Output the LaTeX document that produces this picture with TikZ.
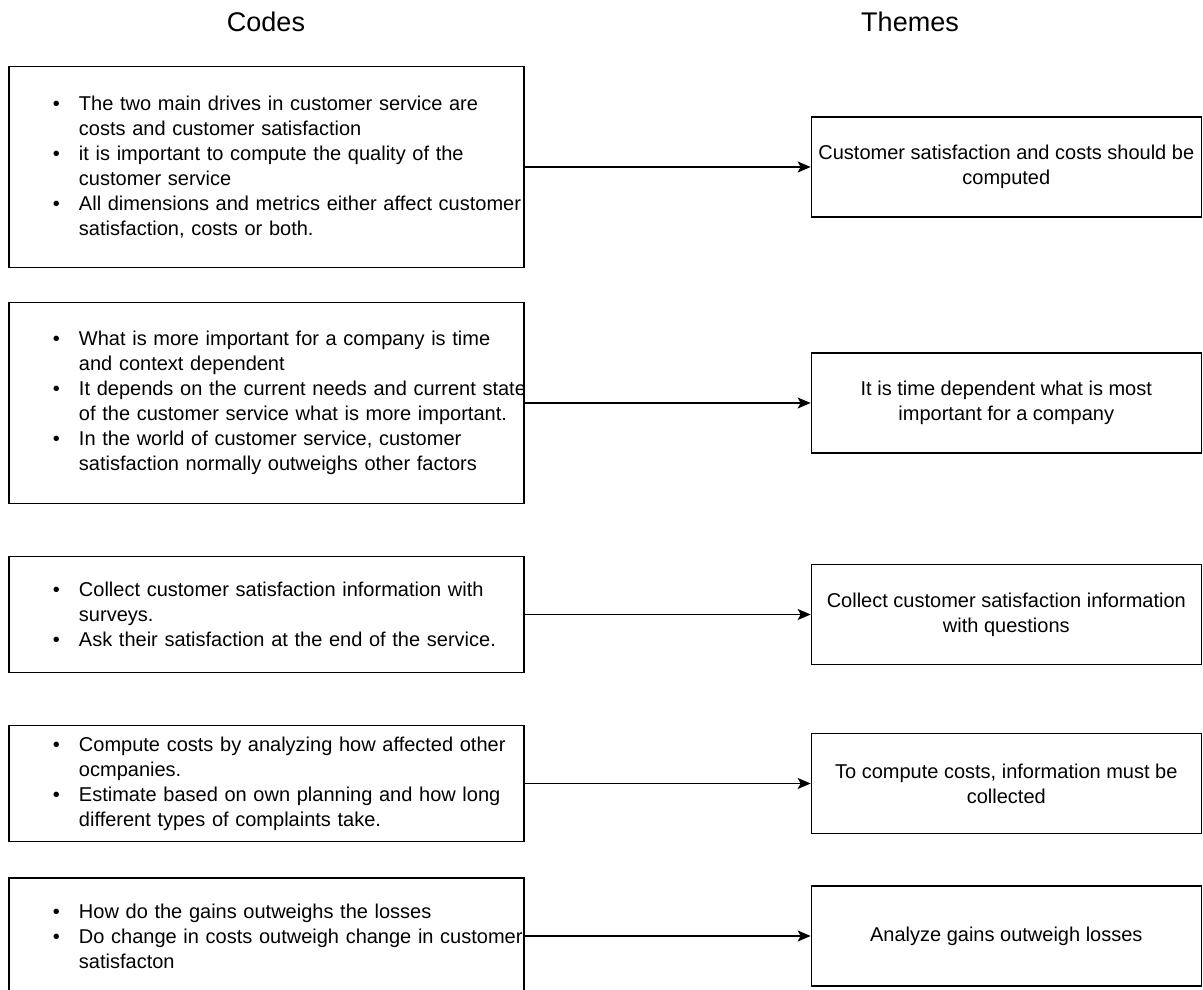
\documentclass[tikz,border=0pt]{standalone}
\usepackage{fontspec}
\setmainfont{Liberation Sans}
\usepackage{tikz}
\usetikzlibrary{positioning, arrows.meta}

\newcommand{\codeitem}[1]{\mbox{\hspace*{44pt}\makebox[26pt][l]{\textbullet}#1}}
\newcommand{\codecont}[1]{\mbox{\hspace*{70pt}#1}}

\begin{document}
\begin{tikzpicture}[
  x=1pt, y=-1pt,
  font=\fontsize{20}{25}\selectfont,
  codebox/.style={rectangle, draw=black, line width=1.3pt, fill=white,
                  minimum width=515pt, text width=515pt, inner xsep=0pt,
                  align=left},
  themebox/.style={rectangle, draw=black, line width=1.3pt, fill=white,
                   minimum width=390pt, minimum height=100pt, inner xsep=1pt,
                   align=center},
  heading/.style={font=\fontsize{27}{32}\selectfont},
  arr/.style={-{Stealth[length=13pt, width=11pt, inset=3pt]}, line width=1.3pt}
]
  \useasboundingbox (0,0) rectangle (1203,990);

  \node[heading] (codes) at (266,22) {Codes};
  \node[heading] (themes) at (910,22) {Themes};

  % codes column
  \node[codebox, minimum height=201pt] (c1) at (266.5,167)
    {\codeitem{The two main drives in customer service are}\\
     \codecont{costs and customer satisfaction}\\
     \codeitem{it is important to compute the quality of the}\\
     \codecont{customer service}\\
     \codeitem{All dimensions and metrics either affect customer}\\
     \codecont{satisfaction, costs or both.}};
  \node[codebox, minimum height=201pt] (c2) at (266.5,403)
    {\codeitem{What is more important for a company is time}\\
     \codecont{and context dependent}\\
     \codeitem{It depends on the current needs and current state}\\
     \codecont{of the customer service what is more important.}\\
     \codeitem{In the world of customer service, customer}\\
     \codecont{satisfaction normally outweighs other factors}};
  \node[codebox, minimum height=116pt] (c3) at (266.5,614.5)
    {\codeitem{Collect customer satisfaction information with}\\
     \codecont{surveys.}\\
     \codeitem{Ask their satisfaction at the end of the service.}};
  \node[codebox, minimum height=116pt] (c4) at (266.5,783.5)
    {\codeitem{Compute costs by analyzing how affected other}\\
     \codecont{ocmpanies.}\\
     \codeitem{Estimate based on own planning and how long}\\
     \codecont{different types of complaints take.}};
  \node[codebox, minimum height=116pt] (c5) at (266.5,936)
    {\codeitem{How do the gains outweighs the losses}\\
     \codeitem{Do change in costs outweigh change in customer}\\
     \codecont{satisfacton}};

  % themes column
  \node[themebox, right=286pt of c1] (t1)
    {Customer satisfaction and costs should be\\computed};
  \node[themebox, right=286pt of c2] (t2)
    {It is time dependent what is most\\important for a company};
  \node[themebox, right=286pt of c3] (t3)
    {Collect customer satisfaction information\\with questions};
  \node[themebox, right=286pt of c4] (t4)
    {To compute costs, information must be\\collected};
  \node[themebox, right=286pt of c5] (t5)
    {Analyze gains outweigh losses};

  \draw[arr] (c1.east) -- (t1.west);
  \draw[arr] (c2.east) -- (t2.west);
  \draw[arr] (c3.east) -- (t3.west);
  \draw[arr] (c4.east) -- (t4.west);
  \draw[arr] (c5.east) -- (t5.west);
\end{tikzpicture}
\end{document}
